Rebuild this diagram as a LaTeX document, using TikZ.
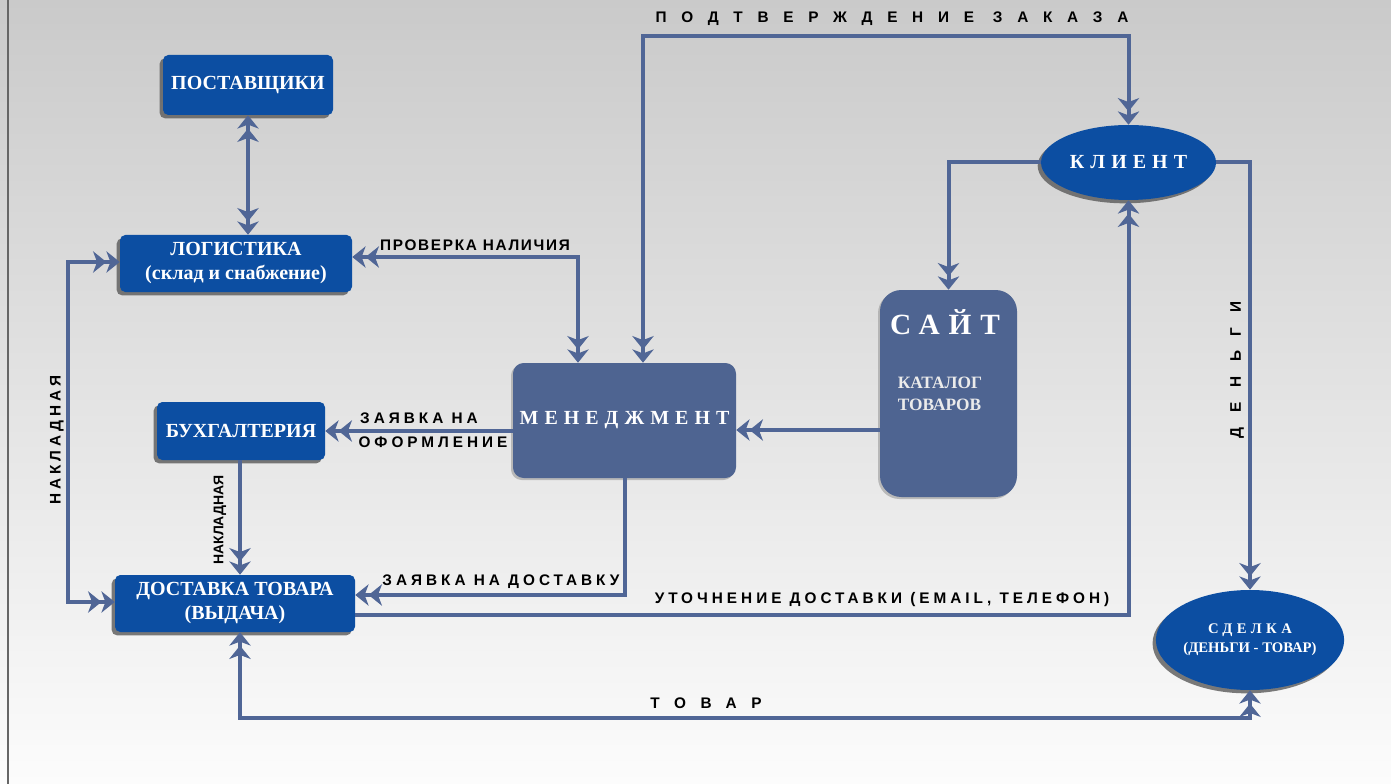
\documentclass[tikz,border=0pt]{standalone}
\usepackage{fontspec}
\setmainfont{Liberation Serif}
\newfontfamily\lsans{Liberation Sans}
\newfontfamily\lsansA[LetterSpace=11]{Liberation Sans}
\newfontfamily\lsansB[LetterSpace=26]{Liberation Sans}
\newfontfamily\lsansW[LetterSpace=96]{Liberation Sans}
\newfontfamily\serifsp[LetterSpace=30]{Liberation Serif}
\usetikzlibrary{arrows.meta,shapes.geometric,shadows,calc}
\definecolor{boxblue}{RGB}{12,78,162}
\definecolor{manblue}{RGB}{78,100,145}
\definecolor{conncol}{RGB}{80,102,150}
\tikzset{
  bshadow/.style={drop shadow={shadow xshift=-2.5pt,shadow yshift=-2.5pt,fill=black!65,opacity=.8}},
  bbox/.style={fill=boxblue, rounded corners=4pt, text=white, align=center,
    font=\fontsize{15}{18}\selectfont\bfseries, inner sep=2pt, bshadow},
  mbox/.style={fill=manblue, rounded corners=8pt, text=white, align=center, inner sep=2pt,
    drop shadow={shadow xshift=-1.5pt,shadow yshift=-1.5pt,fill=black!40,opacity=.6}},
  ell/.style={ellipse, fill=boxblue, text=white, align=center, inner sep=0pt, bshadow},
  conn/.style={draw=conncol, line width=3pt},
  ftip/.tip={Stealth[length=10pt,width=16pt,inset=3pt]},
  one/.style={conn, -{ftip[]ftip[]}},
  dbl/.style={conn, {ftip[]ftip[]}-{ftip[]ftip[]}},
  lab/.style={text=black, inner sep=0pt},
  labA/.style={lab, font=\fontsize{11.5}{13}\selectfont\lsansA\bfseries},
  labB/.style={lab, font=\fontsize{11.5}{13}\selectfont\lsansB\bfseries},
  labW/.style={lab, font=\fontsize{11.5}{13}\selectfont\lsansW\bfseries},
}
\begin{document}
\begin{tikzpicture}[x=0.75pt,y=-0.75pt]
\useasboundingbox (0,0) rectangle (1391,784);
\shade[top color={rgb,255:red,202;green,202;blue,202}, bottom color={rgb,255:red,252;green,252;blue,252}] (0,0) rectangle (1391,784);
\draw[black!60, line width=0.8pt] (8,0) -- (8,784);

% nodes
\node[bbox, minimum width=127.5pt, minimum height=45pt] (post) at (248,85) {ПОСТАВЩИКИ};
\node[bbox, minimum width=174pt, minimum height=42.75pt] (log) at (236,263.5) {ЛОГИСТИКА\\(склад и снабжение)};
\node[bbox, minimum width=126pt, minimum height=43.5pt] (buh) at (241,431) {БУХГАЛТЕРИЯ};
\node[bbox, minimum width=180pt, minimum height=42.75pt] (dost) at (235,603.5) {ДОСТАВКА ТОВАРА\\(ВЫДАЧА)};
\node[mbox, minimum width=167.25pt, minimum height=86.25pt, font=\fontsize{15}{18}\selectfont\serifsp\bfseries] (man) at (624.5,420.5) {МЕНЕДЖМЕНТ};
\node[mbox, rounded corners=16pt, minimum width=102.75pt, minimum height=155.25pt] (site) at (948.5,393.5) {};
\node[text=white, inner sep=0pt, font=\fontsize{22}{24}\selectfont\serifsp\bfseries] (sitet) at (945,322) {САЙТ};
\node[text=white!92!black, inner sep=0pt, align=left, font=\fontsize{13}{16.5}\selectfont\bfseries] (sitec) at (940,394) {КАТАЛОГ\\ТОВАРОВ};
\node[ell, minimum width=131.25pt, minimum height=56.25pt, font=\fontsize{15}{18}\selectfont\serifsp\bfseries] (client) at (1128.5,162.5) {КЛИЕНТ};
\node[ell, minimum width=135pt, minimum height=75pt, font=\fontsize{11}{14}\selectfont\bfseries] (deal) at (1250,640) {{\serifsp СДЕЛКА}\\(ДЕНЬГИ - ТОВАР)};

% helper coordinates
\coordinate (pz) at (643,36);
\coordinate (pn) at (578,257);
\coordinate (sm) at (0,430);
\coordinate (zd) at (625,595);
\coordinate (ut) at (1127,615);
\coordinate (nk) at (240,0);
\coordinate (l1) at (68,262);
\coordinate (l2) at (68,602);
\coordinate (tv) at (240,718);

% connectors
\draw[dbl] (post.south) -- (post.south |- log.north);
\draw[dbl] (man.north -| pz) -- (pz) -| (client.north);
\draw[dbl] (log.east |- pn) -| (man.north -| pn);
\draw[one] (man.west |- buh.east) -- (buh.east);
\draw[one] (site.west |- sm) -- (man.east |- sm);
\draw[one] (client.west) -| (site.north);
\draw[one] (client.east) -| (deal.north);
\draw[one] (man.south -| zd) |- (dost.east |- zd);
\draw[one] (dost.east |- ut) -| (client.south);
\draw[one] (buh.south -| nk) -- (dost.north -| nk);
\draw[dbl] (log.west |- l1) -- (l1) -- (l2) -- (dost.west |- l2);
\draw[dbl] (dost.south -| tv) -- (tv) -| (deal.south);

% labels
\node[labW] (tpz) at (892,19) {ПОДТВЕРЖДЕНИЕ ЗАКАЗА};
\node[labA] (tpn) at (475,245) {ПРОВЕРКА НАЛИЧИЯ};
\node[labB] (tzo1) at (419,418) {ЗАЯВКА НА};
\node[labB] (tzo2) at (433,442) {ОФОРМЛЕНИЕ};
\node[labB] (tzd) at (501,582) {ЗАЯВКА НА ДОСТАВКУ};
\node[labB] (tut) at (882,600) {УТОЧНЕНИЕ ДОСТАВКИ (EMAIL, ТЕЛЕФОН)};
\node[labW] (ttv) at (706,703) {ТОВАР};
\node[labW, rotate=90] (tdn) at (1237,370) {ДЕНЬГИ};
\node[labB, rotate=90] (tnk1) at (57,440) {НАКЛАДНАЯ};
\node[lab, rotate=90, font=\fontsize{10.5}{12}\selectfont\lsans\bfseries] (tnk2) at (220,520) {НАКЛАДНАЯ};
\end{tikzpicture}
\end{document}
